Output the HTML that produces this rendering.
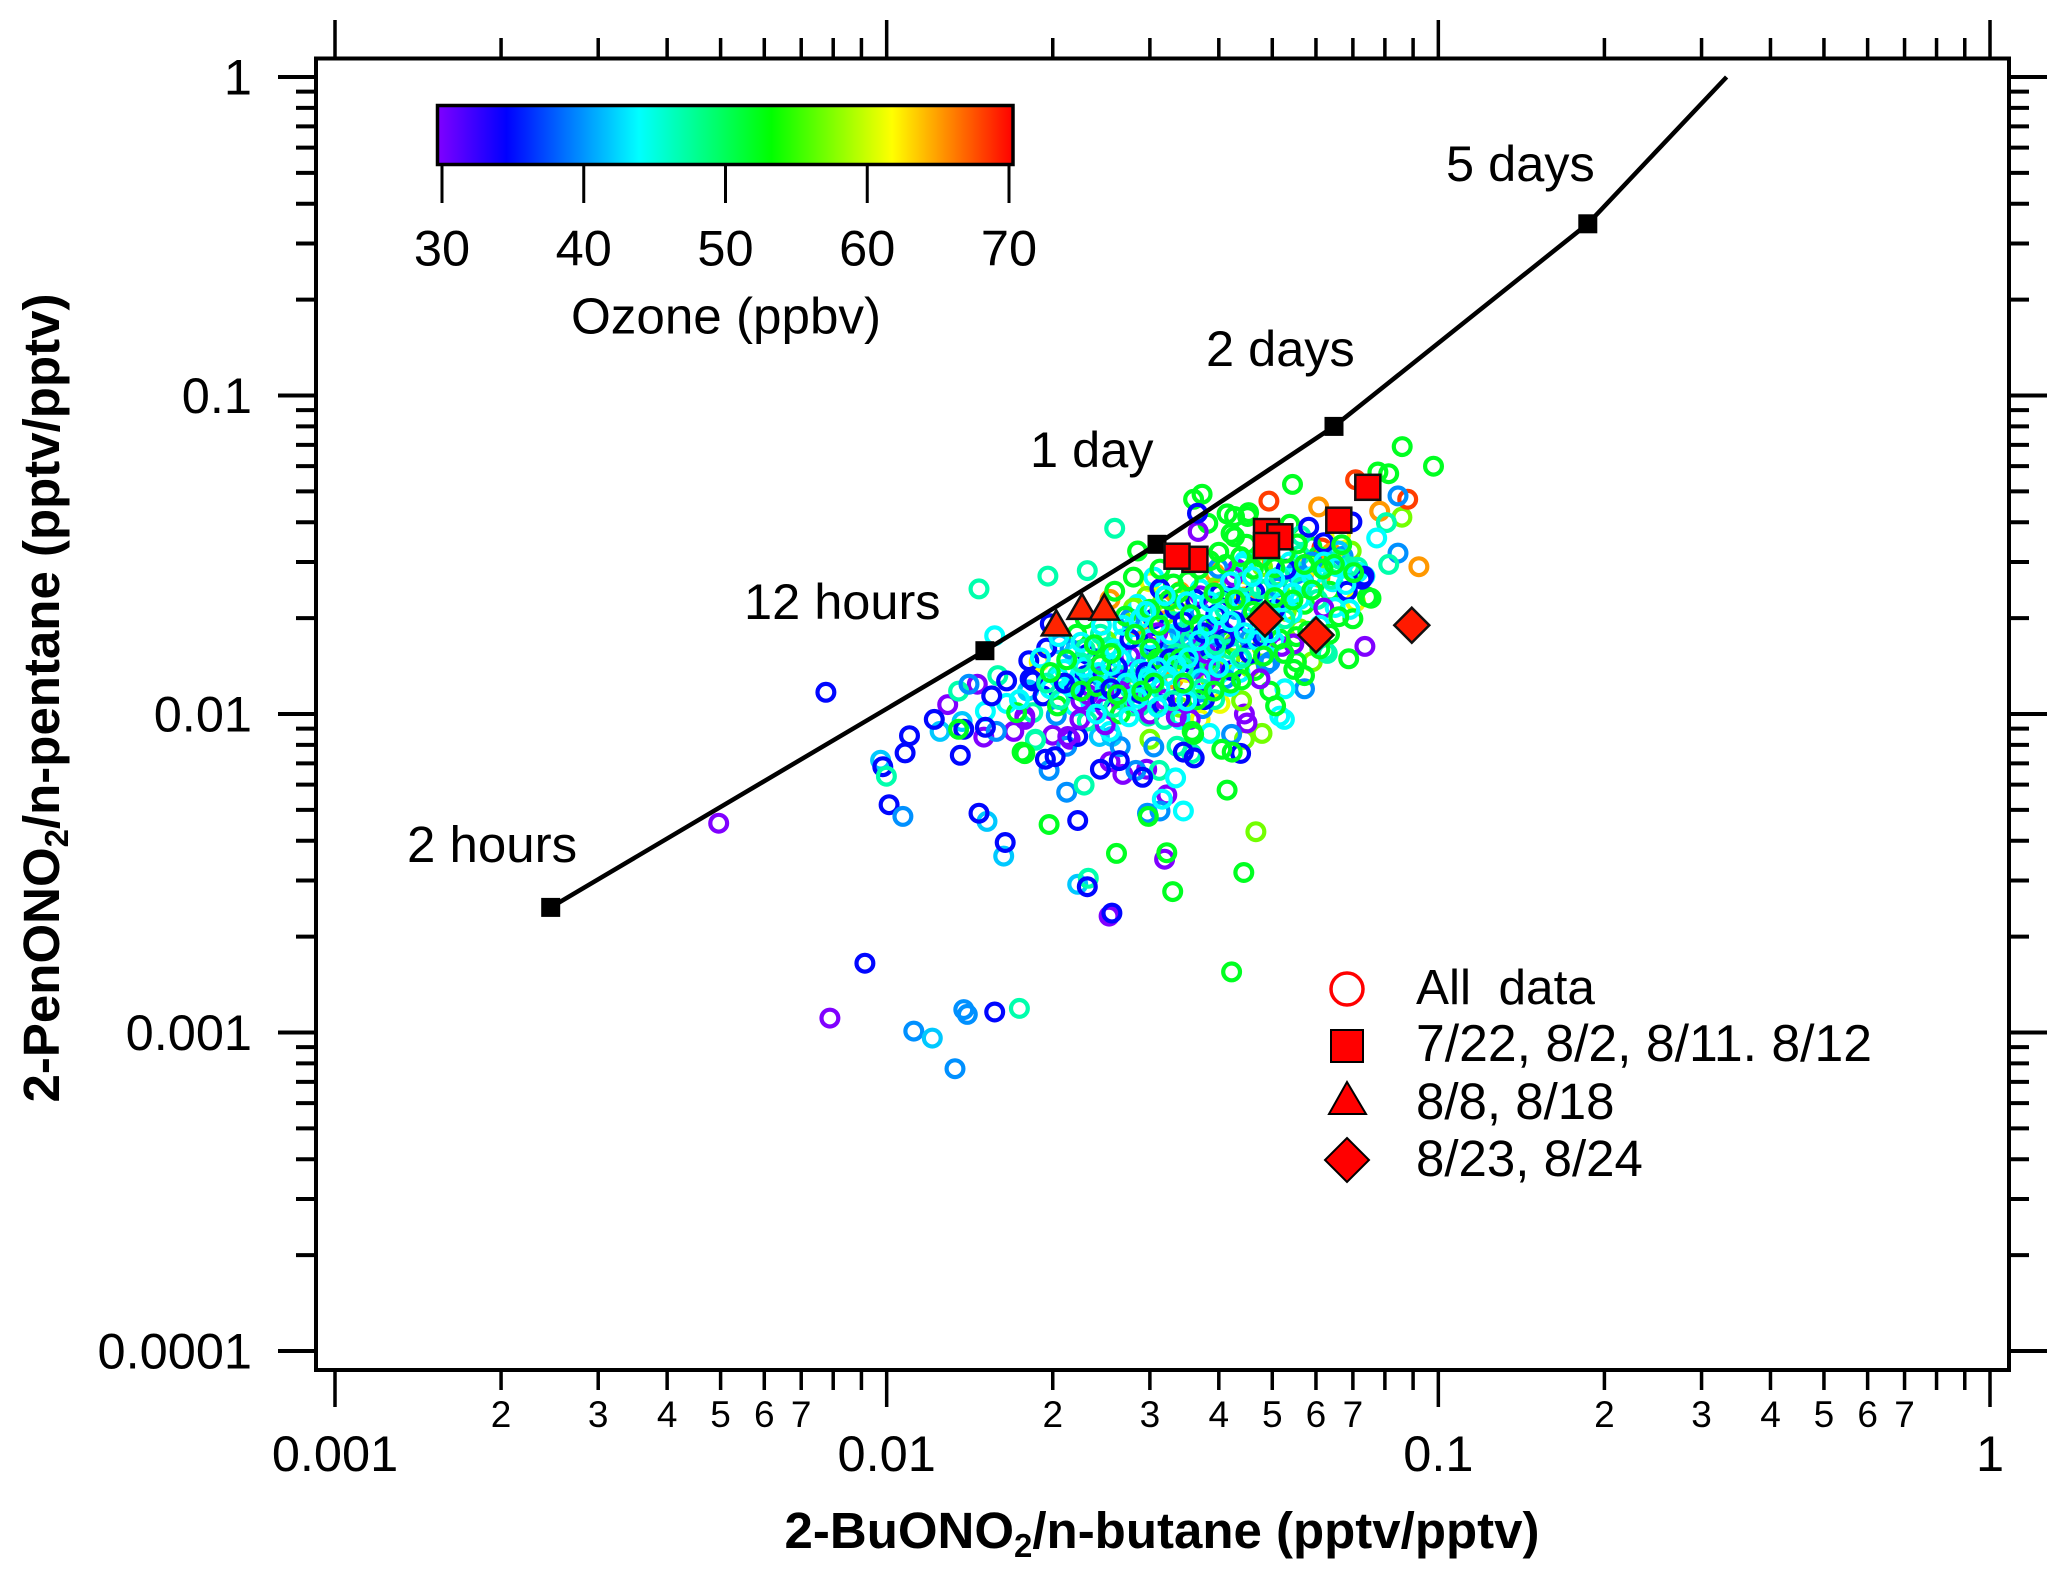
<!DOCTYPE html>
<html lang="en">
<head>
<meta charset="utf-8">
<title>2-PenONO2/n-pentane vs 2-BuONO2/n-butane</title>
<style>
html,body{margin:0;padding:0;background:#fff;}
svg{display:block;}
text{font-family:"Liberation Sans",Arial,sans-serif;fill:#000;}
</style>
</head>
<body>
<svg id="chart" xmlns="http://www.w3.org/2000/svg" width="2067" height="1580" viewBox="0 0 2067 1580">
<defs>
<linearGradient id="ozoneGradient" x1="0" x2="1" y1="0" y2="0">
<stop offset="0" stop-color="#8000ff"/>
<stop offset="0.12" stop-color="#0000ff"/>
<stop offset="0.35" stop-color="#00ffff"/>
<stop offset="0.58" stop-color="#00ff00"/>
<stop offset="0.79" stop-color="#ffff00"/>
<stop offset="1" stop-color="#ff0000"/>
</linearGradient>
</defs>
<rect x="0" y="0" width="2067" height="1580" fill="#ffffff"/>
<g id="ticks"></g>
<g id="tickLabels"></g>
<g id="points"></g>
<g id="model"></g>
<g id="specials"></g>
<rect x="316" y="58.5" width="1693" height="1311.5" fill="none" stroke="#000" stroke-width="4"/>

<g>
<rect x="437.5" y="105.5" width="575.5" height="59" fill="url(#ozoneGradient)" stroke="#000" stroke-width="3.5"/>
<g id="colorbarTicks"></g>
<text x="726" y="333.5" font-size="51.2" text-anchor="middle">Ozone (ppbv)</text>
</g>

<text x="1446" y="181" font-size="50.5">5 days</text>
<text x="1206" y="366" font-size="50.5">2 days</text>
<text x="1030" y="467" font-size="50.5">1 day</text>
<text x="744" y="619" font-size="50.5">12 hours</text>
<text x="407" y="862" font-size="51">2 hours</text>

<g>
<circle cx="1347" cy="989" r="16" fill="#fff" stroke="#ff0000" stroke-width="3.5"/>
<rect x="1331" y="1030" width="32" height="32" fill="#ff0000" stroke="#000" stroke-width="2"/>
<polygon points="1347,1082 1366,1114 1329,1114" fill="#ff0000" stroke="#000" stroke-width="2"/>
<polygon points="1347,1138 1369,1160 1347,1182 1325,1160" fill="#ff0000" stroke="#000" stroke-width="2"/>
<text x="1416" y="1004" font-size="49.5">All&#160; data</text>
<text x="1416" y="1061" font-size="51.7">7/22, 8/2, 8/11. 8/12</text>
<text x="1416" y="1119" font-size="51">8/8, 8/18</text>
<text x="1416" y="1176" font-size="51">8/23, 8/24</text>
</g>

<text x="1162" y="1548" font-size="51" font-weight="bold" text-anchor="middle">2-BuONO<tspan font-size="33" dy="9">2</tspan><tspan dy="-9">/n-butane (pptv/pptv)</tspan></text>
<text transform="translate(59,698) rotate(-90)" font-size="51" font-weight="bold" text-anchor="middle">2-PenONO<tspan font-size="33" dy="9">2</tspan><tspan dy="-9">/n-pentane (pptv/pptv)</tspan></text>
</svg>

<script>
// ---- axis data ----
const xDecades = [0.001, 0.01, 0.1, 1];
const xDecadeLabels = ['0.001', '0.01', '0.1', '1'];
const yDecades = [1, 0.1, 0.01, 0.001, 0.0001];
const yDecadeLabels = ['1', '0.1', '0.01', '0.001', '0.0001'];
const minorMultipliers = [2, 3, 4, 5, 6, 7, 8, 9];
const labelledMinor = [2, 3, 4, 5, 6, 7];
const colorbarTickValues = [30, 40, 50, 60, 70];

// ---- photochemical age line: [2-BuONO2/n-butane, 2-PenONO2/n-pentane] ----
const ageLineX = [0.00246, 0.01507, 0.0309, 0.0647, 0.1866, 0.333];
const ageLineY = [0.00247, 0.0158, 0.0341, 0.080, 0.346, 1.0];
const ageMarkerCount = 5;

// ---- highlighted days ----
const squareX = [0.0745, 0.0660, 0.0488, 0.0516, 0.0488, 0.0362, 0.0336];
const squareY = [0.0515, 0.0406, 0.0374, 0.0360, 0.0338, 0.0306, 0.0313];
const triangleX = [0.0203, 0.0226, 0.0248];
const triangleY = [0.0189, 0.0213, 0.0212];
const diamondX = [0.0485, 0.0600, 0.0895];
const diamondY = [0.0199, 0.0177, 0.0190];

// ---- all data, grouped by ozone level (ppbv): [x, y] ----
const ozoneOrange = 65;
const pointsOrange = [[.0783,.0433],[.0607,.0447],[.0610,.0268],[.0922,.0290],[.0445,.0233],[.0340,.0242],[.0331,.0129],[.0393,.0277],[.0254,.0229],[.0316,.0221],[.0285,.0190],[.0500,.0300],[.0640,.0320],[.0265,.0125]];
const ozoneRed = 68;
const pointsRed = [[.0493,.0466],[.0708,.0544],[.0880,.0472],[.0615,.0332]];
const ozoneYellow = 61;
const pointsYellow = [[.0665,.0367],[.0708,.0225],[.0189,.0146],[.0402,.0108],[.0319,.0172],[.0370,.00962],[.0300,.0260],[.0440,.0245],[.0580,.0290],[.0350,.0135]];
const ozoneLime = 57;
const pointsLime = [[.0859,.0415],[.0695,.0325],[.0591,.0146],[.0479,.0162],[.0427,.0168],[.0516,.0241],[.0300,.00833],[.0445,.00833],[.0479,.00869],[.0467,.00427],[.0296,.0234],[.0455,.0140],[.0340,.0229],[.0419,.0149],[.0561,.0185],[.0280,.0215],[.0385,.0130],[.0620,.0310],[.0480,.0290],[.0395,.0250],[.0320,.0205],[.0250,.0170],[.0530,.0210],[.0340,.0105],[.0440,.0110]];
const ozonePurple = 30;
const pointsPurple = [[.00496,.00454],[.00789,.00111],[.0146,.0124],[.0129,.0107],[.0150,.00846],[.0170,.00882],[.0178,.00985],[.0200,.00858],[.0215,.00833],[.0254,.00708],[.0268,.00646],[.0296,.00671],[.0322,.00557],[.0319,.00350],[.0253,.00232],[.0450,.00937],[.0736,.0163],[.0455,.0191],[.0520,.0163],[.0367,.0374],[.0432,.0285],[.0471,.0183],[.0445,.0100],[.0379,.0127],[.0178,.00962],[.0249,.00925],[.0249,.0105],[.0247,.0132],[.0265,.0129],[.0304,.0127],[.0345,.0123],[.0213,.00850],[.0276,.0152],[.0349,.0172],[.0319,.0111],[.0355,.00962],[.0300,.0100],[.0392,.0136],[.0224,.00962],[.0475,.0129],[.0547,.0166],[.0396,.0202],[.0410,.0180],[.0370,.0235],[.0425,.0270],[.0232,.0115],[.0285,.0108],[.0335,.0098],[.0380,.0155],[.0225,.0110],[.0310,.0180],[.0620,.0215],[.0265,.0118]];
const ozoneGreen = 52;
const pointsGreen = [[.0285,.0325],[.0373,.0490],[.0360,.0472],[.0414,.0425],[.0382,.0397],[.0421,.0369],[.0453,.0429],[.0544,.0526],[.0860,.0691],[.0980,.0600],[.0777,.0575],[.0813,.0568],[.0451,.0417],[.0538,.0394],[.0427,.0417],[.0427,.0360],[.0449,.0341],[.0605,.0313],[.0590,.0335],[.0755,.0231],[.0572,.0221],[.0636,.0243],[.0744,.0233],[.0700,.0199],[.0553,.0175],[.0688,.0149],[.0553,.0146],[.0547,.0138],[.0572,.0132],[.0495,.0118],[.0507,.0106],[.0465,.0137],[.0427,.0163],[.0385,.0149],[.0401,.0188],[.0221,.0178],[.0271,.0203],[.0259,.0243],[.0280,.0269],[.0331,.0256],[.0204,.0106],[.0178,.00751],[.0176,.00759],[.0172,.0101],[.0135,.00895],[.0197,.00450],[.0261,.00365],[.0322,.00367],[.0414,.00577],[.0360,.00863],[.0405,.00775],[.0423,.00759],[.0444,.00318],[.0330,.00277],[.0422,.00155],[.0366,.0111],[.0310,.0149],[.0298,.00477],[.0358,.00882],[.0265,.0100],[.0300,.0213],[.0340,.0149],[.0475,.0206],[.0610,.0160],[.0370,.0191],[.0516,.0172],[.0244,.0143],[.0229,.0199],[.0313,.0285],[.0347,.0306],[.0240,.0122],[.0290,.0118],[.0420,.0125],[.0300,.0160],[.0325,.0228],[.0338,.0240],[.0352,.0262],[.0368,.0285],[.0385,.0303],[.0400,.0322],[.0412,.0295],[.0438,.0312],[.0462,.0285],[.0478,.0310],[.0505,.0288],[.0528,.0320],[.0555,.0342],[.0572,.0295],[.0618,.0285],[.0648,.0295],[.0668,.0340],[.0702,.0278],[.0590,.0245],[.0545,.0228],[.0505,.0232],[.0462,.0210],[.0428,.0228],[.0392,.0240],[.0355,.0205],[.0312,.0190],[.0282,.0178],[.0255,.0155],[.0238,.0165],[.0212,.0148],[.0198,.0135],[.0225,.0118],[.0262,.0115],[.0305,.0125],[.0345,.0125],[.0392,.0118],[.0440,.0128],[.0482,.0152],[.0525,.0155],[.0580,.0182],[.0635,.0178],[.0660,.0202]];
const ozoneBlue = 35;
const pointsBlue = [[.00776,.0117],[.00913,.00165],[.0157,.00116],[.0101,.00519],[.0147,.00488],[.0164,.00395],[.00984,.00683],[.0108,.00755],[.0110,.00855],[.0136,.00742],[.0122,.00962],[.0138,.00895],[.0151,.00908],[.0155,.0114],[.0165,.0127],[.0181,.0147],[.0184,.0127],[.0195,.0161],[.0198,.0192],[.0231,.0154],[.0182,.0129],[.0192,.0114],[.0194,.00721],[.0202,.00735],[.0222,.00850],[.0222,.00463],[.0244,.00671],[.0264,.00714],[.0291,.00633],[.0231,.00287],[.0256,.00237],[.0361,.00728],[.0345,.00759],[.0438,.00752],[.0304,.0168],[.0305,.0199],[.0316,.0107],[.0366,.0427],[.0401,.0238],[.0355,.0145],[.0385,.0160],[.0422,.0137],[.0419,.0234],[.0465,.0241],[.0684,.0243],[.0733,.0271],[.0727,.0265],[.0697,.0401],[.0582,.0386],[.0363,.0229],[.0276,.0172],[.0333,.0213],[.0377,.0111],[.0288,.0116],[.0244,.0111],[.0229,.0132],[.0219,.0120],[.0455,.0155],[.0505,.0213],[.0326,.0149],[.0410,.0172],[.0313,.0247],[.0295,.0135],[.0262,.0140],[.0345,.0195],[.0375,.0180],[.0340,.0112],[.0395,.0205],[.0428,.0195],[.0480,.0175],[.0530,.0285],[.0620,.0345],[.0255,.0120],[.0210,.0125]];
const ozoneAzure = 40;
const pointsAzure = [[.0112,.00101],[.0133,.00077],[.0138,.00118],[.0140,.00114],[.0107,.00477],[.0141,.0124],[.0158,.00882],[.0197,.00665],[.0212,.00568],[.0212,.00792],[.0240,.0149],[.0283,.00665],[.0305,.00788],[.0313,.00496],[.0297,.00488],[.0265,.00790],[.0422,.00863],[.0572,.0120],[.0845,.0484],[.0845,.0320],[.0672,.0313],[.0551,.0279],[.0370,.0209],[.0385,.0179],[.0399,.0287],[.0553,.0275],[.0411,.0129],[.0374,.0104],[.0488,.0143],[.0203,.00991],[.0259,.0127],[.0495,.0146],[.0429,.0213],[.0326,.0172],[.0276,.0199],[.0215,.0160],[.0355,.0138],[.0455,.0172],[.0345,.0165],[.0300,.0145],[.0245,.0130],[.0392,.0175],[.0510,.0250],[.0590,.0300]];
const ozoneTeal = 47;
const pointsTeal = [[.0147,.0247],[.0196,.0271],[.0231,.0282],[.0259,.0383],[.0135,.0118],[.0159,.0132],[.00999,.00638],[.0186,.00827],[.0184,.0101],[.0186,.00833],[.0228,.00598],[.0312,.00665],[.0336,.00792],[.0357,.00751],[.0232,.00305],[.0174,.00119],[.0288,.0106],[.0298,.00985],[.0279,.0106],[.0280,.0129],[.0240,.0126],[.0221,.0122],[.0204,.0132],[.0231,.00950],[.0252,.0162],[.0244,.0178],[.0331,.0195],[.0326,.0124],[.0293,.0145],[.0623,.0158],[.0805,.0399],[.0813,.0295],[.0714,.0289],[.0563,.0363],[.0561,.0315],[.0502,.0295],[.0629,.0155],[.0488,.0247],[.0461,.0225],[.0604,.0229],[.0393,.0111],[.0465,.0172],[.0355,.0172],[.0276,.0120],[.0319,.00962],[.0385,.0143],[.0419,.0160],[.0527,.0199],[.0313,.0213],[.0265,.0132],[.0206,.0111],[.0229,.0160],[.0410,.0213],[.0475,.0247],[.0663,.0306],[.0335,.0155],[.0360,.0185],[.0405,.0225],[.0445,.0260],[.0515,.0270],[.0565,.0250],[.0640,.0265],[.0690,.0290],[.0490,.0195],[.0440,.0150],[.0395,.0165],[.0345,.0140],[.0298,.0115],[.0258,.0105],[.0225,.0145],[.0195,.0125],[.0372,.0120],[.0330,.0110]];
const ozoneCyan = 44;
const pointsCyan = [[.0157,.0176],[.0165,.0108],[.0151,.0102],[.0219,.0154],[.0222,.0127],[.0219,.0106],[.0236,.0109],[.0265,.0111],[.0279,.0188],[.0267,.0172],[.0285,.0221],[.0305,.0269],[.0316,.0152],[.0345,.0152],[.0345,.0172],[.0344,.0196],[.0340,.00985],[.0334,.00630],[.0316,.00540],[.0345,.00496],[.0254,.00882],[.0385,.00869],[.0526,.00962],[.0340,.00962],[.0419,.0122],[.0437,.0135],[.0527,.0120],[.0516,.00985],[.0366,.0160],[.0505,.0169],[.0543,.0207],[.0650,.0216],[.0773,.0357],[.0736,.0271],[.0715,.0279],[.0565,.0263],[.0569,.0257],[.0644,.0260],[.0442,.0295],[.0445,.0302],[.0538,.0300],[.0437,.0149],[.0455,.0193],[.0259,.0160],[.0288,.0138],[.0265,.0149],[.0370,.0129],[.0313,.0120],[.0198,.0120],[.0210,.0138],[.0174,.0111],[.0249,.0120],[.0393,.0160],[.0485,.0199],[.0610,.0190],[.0437,.0229],[.0561,.0229],[.0691,.0213],[.0300,.0172],[.0288,.0199],[.0326,.0178],[.0370,.0247],[.0205,.0130],[.0215,.0122],[.0228,.0140],[.0242,.0135],[.0255,.0142],[.0272,.0125],[.0285,.0112],[.0298,.0130],[.0310,.0140],[.0322,.0132],[.0335,.0142],[.0352,.0150],[.0368,.0170],[.0382,.0190],[.0400,.0205],[.0420,.0195],[.0445,.0180],[.0470,.0170],[.0495,.0180],[.0520,.0225],[.0545,.0240],[.0590,.0270],[.0620,.0300],[.0655,.0290],[.0680,.0255],[.0505,.0265],[.0460,.0270],[.0420,.0260],[.0385,.0225],[.0350,.0225],[.0320,.0235],[.0295,.0210],[.0268,.0190],[.0245,.0190],[.0225,.0168],[.0205,.0175],[.0190,.0150],[.0240,.0100],[.0275,.0098],[.0310,.0105],[.0350,.0110],[.0400,.0140]];
const ozoneSky = 42;
const pointsSky = [[.0121,.00096],[.00975,.00716],[.0152,.00460],[.0163,.00358],[.0125,.00882],[.0137,.00947],[.0222,.00292],[.0256,.00850],[.0243,.00850],[.0180,.0118],[.0206,.0166],[.0181,.0119],[.0340,.0180],[.0295,.0125],[.0480,.0200],[.0285,.0155],[.0360,.0158],[.0325,.0150],[.0420,.0175],[.0570,.0260],[.0660,.0325],[.0235,.0135]];

const ozoneBands = [
  [ozoneOrange, pointsOrange], [ozoneRed, pointsRed], [ozoneYellow, pointsYellow], [ozoneLime, pointsLime],
  [ozonePurple, pointsPurple], [ozoneBlue, pointsBlue], [ozoneGreen, pointsGreen], [ozoneAzure, pointsAzure],
  [ozoneTeal, pointsTeal], [ozoneCyan, pointsCyan], [ozoneSky, pointsSky]
];

// ---- scales ----
function sx(v) { return 335 + 551.67 * (Math.log10(v) + 3); }
function sy(v) { return 77 - 318.5 * Math.log10(v); }
function sOzone(o) { return 442 + (o - 30) * 14.175; }

const colorStops = [[0, 128, 0, 255], [0.12, 0, 0, 255], [0.35, 0, 255, 255], [0.58, 0, 255, 0], [0.79, 255, 255, 0], [1, 255, 0, 0]];
function ozoneColor(o) {
  const t = Math.max(0, Math.min(1, (o - 30) / 40));
  for (let i = 1; i < colorStops.length; i++) {
    if (t <= colorStops[i][0]) {
      const a = colorStops[i - 1], b = colorStops[i];
      const f = (t - a[0]) / (b[0] - a[0]);
      return 'rgb(' + Math.round(a[1] + (b[1] - a[1]) * f) + ',' + Math.round(a[2] + (b[2] - a[2]) * f) + ',' + Math.round(a[3] + (b[3] - a[3]) * f) + ')';
    }
  }
  return 'rgb(255,0,0)';
}

const NS = 'http://www.w3.org/2000/svg';
function mk(tag, attrs, parent) {
  const el = document.createElementNS(NS, tag);
  for (const k in attrs) el.setAttribute(k, attrs[k]);
  parent.appendChild(el);
  return el;
}
function line(parent, x1, y1, x2, y2, w) {
  return mk('line', { x1: x1, y1: y1, x2: x2, y2: y2, stroke: '#000', 'stroke-width': w }, parent);
}
function label(parent, x, y, size, anchor, str) {
  const t = mk('text', { x: x, y: y, 'font-size': size, 'text-anchor': anchor }, parent);
  t.textContent = str;
  return t;
}

const gTicks = document.getElementById('ticks');
const gLabels = document.getElementById('tickLabels');

// x ticks, bottom and top
xDecades.forEach(function (d, i) {
  const px = sx(d);
  const bottom = line(gTicks, px, 1370, px, 1407, 3.5);
  
  
  const top = line(gTicks, px, 20, px, 58, 3.5);
  
  
  const lab = label(gLabels, px, 1471, 50.5, 'middle', xDecadeLabels[i]);
  
  
  if (i < xDecades.length - 1) {
    minorMultipliers.forEach(function (m) {
      const mx = sx(d * m);
      const b = line(gTicks, mx, 1370, mx, 1390, 3.5);
      
      
      const t = line(gTicks, mx, 38, mx, 58, 3.5);
      
      
      if (labelledMinor.indexOf(m) >= 0) {
        const ml = label(gLabels, mx, 1427, 37, 'middle', String(m));
        
        
      }
    });
  }
});

// y ticks, left and right
yDecades.forEach(function (d, i) {
  const py = sy(d);
  const left = line(gTicks, 278, py, 316, py, 4);
  
  
  const right = line(gTicks, 2009, py, 2047, py, 4);
  
  
  const lab = label(gLabels, 252, py + 17.5, 50.5, 'end', yDecadeLabels[i]);
  
  
  if (i < yDecades.length - 1) {
    minorMultipliers.forEach(function (m) {
      const my = sy(yDecades[i + 1] * m);
      const l = line(gTicks, 296, my, 316, my, 4);
      
      
      const r = line(gTicks, 2009, my, 2029, my, 4);
      
      
    });
  }
});

// colorbar ticks
const gColorbarTicks = document.getElementById('colorbarTicks');
colorbarTickValues.forEach(function (v) {
  const px = sOzone(v);
  const t = line(gColorbarTicks, px, 166, px, 203, 3);
  
  
  const l = label(gColorbarTicks, px, 265.5, 50.5, 'middle', String(v));
  
  
});

// data points: drawn round-robin across ozone levels so colours overlap in a mixed order
const gPoints = document.getElementById('points');
const longestBand = Math.max.apply(null, ozoneBands.map(function (b) { return b[1].length; }));
for (let i = 0; i < longestBand; i++) {
  ozoneBands.forEach(function (band) {
    const p = band[1][i];
    if (!p) return;
    const c = mk('circle', { cx: sx(p[0]).toFixed(1), cy: sy(p[1]).toFixed(1), r: 8.4, fill: 'none', stroke: ozoneColor(band[0]), 'stroke-width': 4.2 }, gPoints);
    
    
  });
}

// age line
const gModel = document.getElementById('model');
const linePts = ageLineX.map(function (x, i) { return sx(x).toFixed(1) + ',' + sy(ageLineY[i]).toFixed(1); }).join(' ');
const agePath = mk('polyline', { points: linePts, fill: 'none', stroke: '#000', 'stroke-width': 4.5 }, gModel);


ageLineX.slice(0, ageMarkerCount).forEach(function (x, i) {
  const s = mk('rect', { x: (sx(x) - 9.5).toFixed(1), y: (sy(ageLineY[i]) - 9.5).toFixed(1), width: 19, height: 19, fill: '#000' }, gModel);
  
  
});

// highlighted day markers
const gSpecials = document.getElementById('specials');
squareX.forEach(function (x, i) {
  const px = sx(x), py = sy(squareY[i]);
  const s = mk('rect', { x: (px - 12.5).toFixed(1), y: (py - 12.5).toFixed(1), width: 25, height: 25, fill: '#ff0000', stroke: '#111', 'stroke-width': 2.5 }, gSpecials);
  
  
});
triangleX.forEach(function (x, i) {
  const px = sx(x), py = sy(triangleY[i]);
  const pts = px.toFixed(1) + ',' + (py - 15.5).toFixed(1) + ' ' + (px + 14.5).toFixed(1) + ',' + (py + 9.5).toFixed(1) + ' ' + (px - 14.5).toFixed(1) + ',' + (py + 9.5).toFixed(1);
  const t = mk('polygon', { points: pts, fill: '#ff2400', stroke: '#111', 'stroke-width': 2.5 }, gSpecials);
  
  
});
diamondX.forEach(function (x, i) {
  const px = sx(x), py = sy(diamondY[i]);
  const pts = px.toFixed(1) + ',' + (py - 17.5).toFixed(1) + ' ' + (px + 17.5).toFixed(1) + ',' + py.toFixed(1) + ' ' + px.toFixed(1) + ',' + (py + 17.5).toFixed(1) + ' ' + (px - 17.5).toFixed(1) + ',' + py.toFixed(1);
  const d = mk('polygon', { points: pts, fill: '#ff1a00', stroke: '#111', 'stroke-width': 2.5 }, gSpecials);
  
  
});
</script>
</body>
</html>
